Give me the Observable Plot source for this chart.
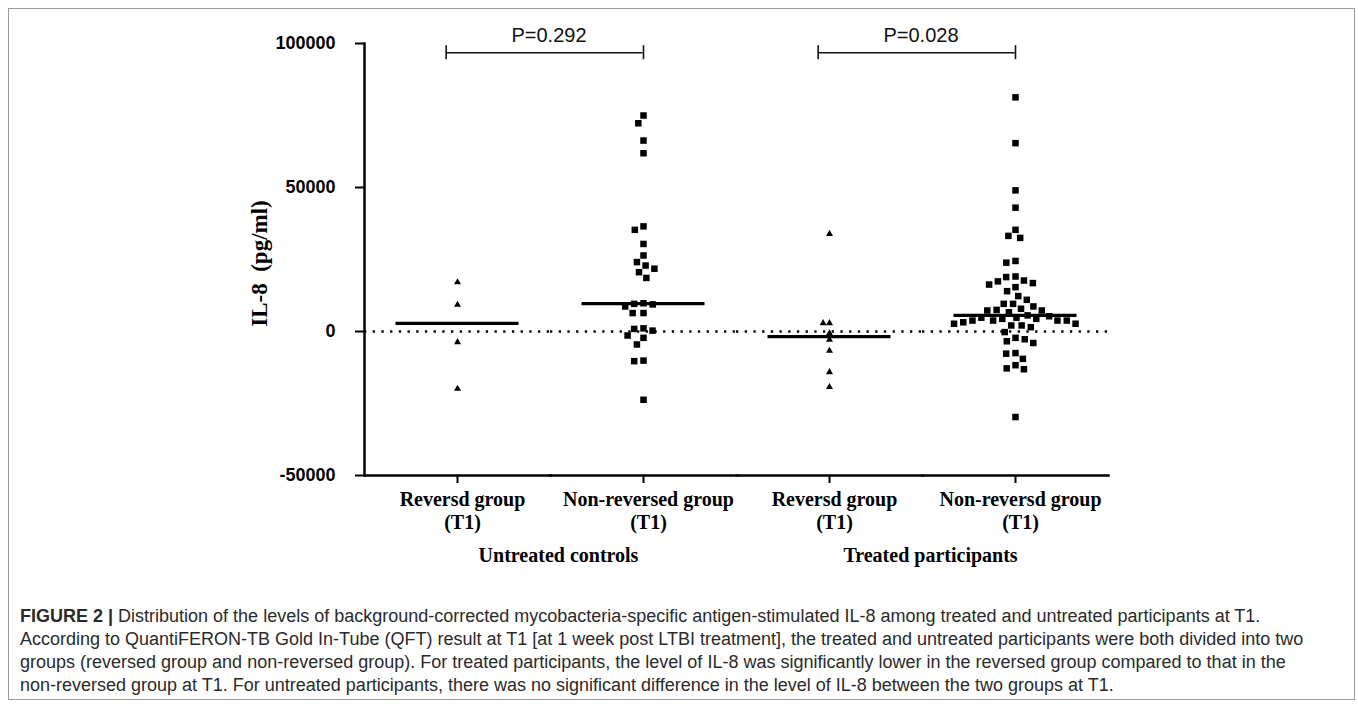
<!DOCTYPE html>
<html><head><meta charset="utf-8">
<script src="https://cdn.jsdelivr.net/npm/d3@7"></script>
<script src="https://cdn.jsdelivr.net/npm/@observablehq/plot@0.6"></script>
<style>
html,body{margin:0;padding:0;background:#fff;width:1358px;height:708px;overflow:hidden;}
#frame{position:absolute;left:8px;top:8px;width:1347px;height:692px;border:1.5px solid #9a9a9a;box-sizing:border-box;}
#chart{position:absolute;left:0;top:0;}
#caption{position:absolute;left:20px;top:605px;font-family:"Liberation Sans",Arial,sans-serif;font-size:18px;line-height:23px;color:#2a2a2a;white-space:nowrap;}
</style></head><body>
<div id="frame"></div>
<div id="chart"></div>
<div id="caption"><b>FIGURE 2 |</b> Distribution of the levels of background-corrected mycobacteria-specific antigen-stimulated IL-8 among treated and untreated participants at T1.<br>According to QuantiFERON-TB Gold In-Tube (QFT) result at T1 [at 1 week post LTBI treatment], the treated and untreated participants were both divided into two<br>groups (reversed group and non-reversed group). For treated participants, the level of IL-8 was significantly lower in the reversed group compared to that in the<br>non-reversed group at T1. For untreated participants, there was no significant difference in the level of IL-8 between the two groups at T1.</div>
<script>
// ---- data ----
const groupKeys = ["untreated-reversed", "untreated-nonreversed", "treated-reversed", "treated-nonreversed"];
const tickLabels = ["Reversd group\n(T1)", "Non-reversed group\n(T1)", "Reversd group\n(T1)", "Non-reversd group\n(T1)"];
const treatmentLabels = ["Untreated controls", "Treated participants"];
const pLabels = ["P=0.292", "P=0.028"];
const yTicks = [-50000, 0, 50000, 100000];
const yTitle = "IL-8\u00a0\u00a0(pg/ml)";

const untreatedReversed = [17100, 9300, -3700, -19900];
const untreatedNonReversed = [75000, 72300, 66300, 61900, 36500, 35300, 30400, 26400, 24100, 22900, 21800, 20600, 18600,
  9800, 9600, 9400, 8700, 6400, 6400, 1100, 900, 300, -1400, -2200, -4500, -10100, -10300, -23700];
const treatedReversed = [33900, 2900, 2900, -600, -2900, -6700, -14100, -19300];
const treatedNonReversed = [81300, 65400, 49000, 43000, 35300, 33200, 32500, 24500, 23900,
  19100, 18900, 17700, 17400, 16800, 16300, 15400, 14000,
  12300, 11000, 9600, 9600, 8700,
  7900, 7500, 7300, 7300, 6700, 5600, 5300, 4800, 4800, 4400, 4400, 3800, 3800, 3800, 3800, 3200, 2700, 2700, 2100, 2100, 1500, -200,
  -2200, -2700, -3400, -4000, -7500, -7700, -9500, -11700, -12800, -13100, -29700];

const triangleRows = [
  ...untreatedReversed.map(v => ({group: groupKeys[0], value: v})),
  ...treatedReversed.map(v => ({group: groupKeys[2], value: v}))
];
const squareRows = [
  ...untreatedNonReversed.map(v => ({group: groupKeys[1], value: v})),
  ...treatedNonReversed.map(v => ({group: groupKeys[3], value: v}))
];
const allRows = triangleRows.concat(squareRows);
const labelOf = new Map(groupKeys.map((k, i) => [k, tickLabels[i]]));
const bracketY = 96800;

const serif = "'Liberation Serif','Times New Roman',serif";
const sans = "'Liberation Sans',Arial,sans-serif";

const plot = Plot.plot({
  width: 1358, height: 590,
  marginLeft: 362.7, marginRight: 248.3, marginTop: 43, marginBottom: 115,
  fx: {domain: groupKeys, padding: 0, axis: null},
  x: {type: "linear", domain: [-0.5, 0.5], axis: null},
  y: {domain: [-50000, 100000], axis: null},
  style: {background: "transparent", overflow: "visible", fontFamily: sans},
  marks: [
    Plot.ruleY([0], {stroke: "#000", strokeWidth: 2.3, strokeDasharray: "2.3,6.4"}),
    Plot.frame({anchor: "bottom", stroke: "#000", strokeWidth: 2.5}),
    Plot.frame({anchor: "left", stroke: "#000", strokeWidth: 2.5, facetAnchor: "left"}),
    Plot.axisY({ticks: yTicks, tickFormat: d => String(d), tickSize: 9, tickPadding: 20, stroke: "#000", strokeWidth: 2,
      fill: "#000", fontSize: 18, fontWeight: "bold", fontFamily: sans, label: null}),
    Plot.axisFx({anchor: "bottom", tickSize: 8, stroke: "#000", strokeWidth: 2, text: null, label: null}),
    Plot.axisFx({anchor: "bottom", tickSize: 0, tickPadding: 14.5, tickFormat: k => labelOf.get(k), dx: 5,
      fill: "#000", fontSize: 20, fontWeight: "bold", fontFamily: serif, lineHeight: 1.15, label: null}),
    Plot.text([yTitle], {text: d => d, facetAnchor: "left", frameAnchor: "left", textAnchor: "middle", rotate: -90, dx: -105, dy: 4,
      fill: "#000", fontSize: 23, fontWeight: "bold", fontFamily: serif}),
    Plot.text(treatmentLabels, {fx: (d, i) => groupKeys[2 * i + 1], text: d => d, frameAnchor: "bottom-left", textAnchor: "middle",
      lineAnchor: "bottom", dx: 8, dy: 86, fill: "#000", fontSize: 20, fontWeight: "bold", fontFamily: serif}),
    Plot.ruleY(allRows, Plot.groupZ({y: "median"}, {y: "value", fx: "group", insetLeft: 31.5, insetRight: 31.5,
      stroke: "#000", strokeWidth: 3.2})),
    Plot.dot(triangleRows, Plot.dodgeX({anchor: "middle", padding: 1.2}, {y: "value", fx: "group", r: 2.6,
      symbol: "triangle", fill: "#000", stroke: "none"})),
    Plot.dot(squareRows, Plot.dodgeX({anchor: "middle", padding: 2}, {y: "value", fx: "group", r: 3.67,
      symbol: "square", fill: "#000", stroke: "none"})),
    Plot.ruleY(pLabels, {fx: (d, i) => groupKeys[2 * i], y: bracketY, insetLeft: 82, stroke: "#111", strokeWidth: 1.6}),
    Plot.ruleY(pLabels, {fx: (d, i) => groupKeys[2 * i + 1], y: bracketY, insetRight: 93.35, stroke: "#111", strokeWidth: 1.6}),
    Plot.ruleX(pLabels, {fx: (d, i) => groupKeys[2 * i], x: 0, y1: bracketY, y2: bracketY, insetTop: -7, insetBottom: -7,
      dx: -11.35, stroke: "#111", strokeWidth: 1.6}),
    Plot.ruleX(pLabels, {fx: (d, i) => groupKeys[2 * i + 1], x: 0, y1: bracketY, y2: bracketY, insetTop: -7, insetBottom: -7,
      stroke: "#111", strokeWidth: 1.6}),
    Plot.text(pLabels, {fx: (d, i) => groupKeys[2 * i + 1], text: d => d, frameAnchor: "top-left", textAnchor: "middle", lineAnchor: "bottom",
      dx: -1.5, dy: -1.3, fill: "#111", fontSize: 20, fontFamily: sans})
  ]
});
document.getElementById("chart").appendChild(plot);
</script>
</body></html>
